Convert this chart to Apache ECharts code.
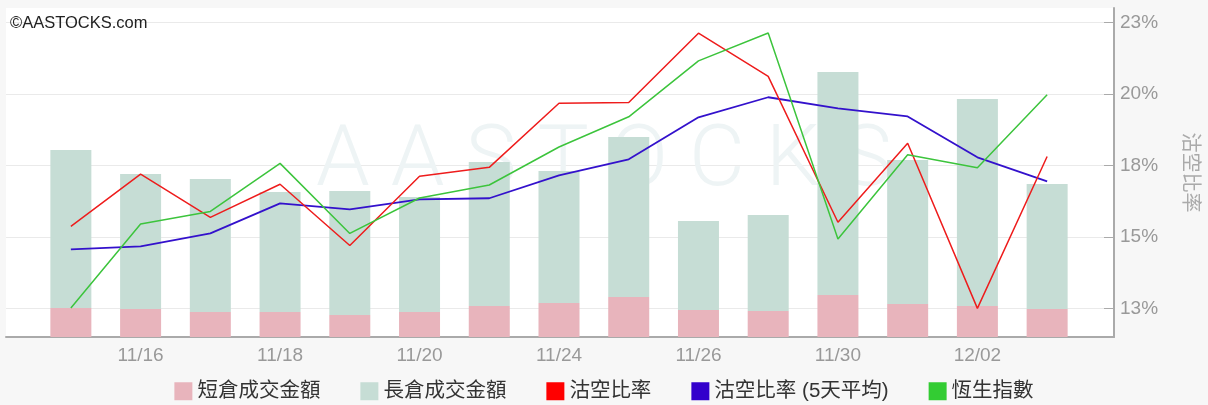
<!DOCTYPE html>
<html>
<head>
<meta charset="utf-8">
<script src="https://cdn.jsdelivr.net/npm/echarts@6/dist/echarts.min.js"></script>
<style>html,body{margin:0;padding:0;background:#f7f7f7;}#c{width:1208px;height:405px;}</style>
</head>
<body>
<div id="c"></div>
<script>
var categories = ['11/13','11/16','11/17','11/18','11/19','11/20','11/23','11/24','11/25','11/26','11/27','11/30','12/01','12/02','12/03'];
var shortAmt = [290,280,250,250,220,250,310,340,400,270,260,420,330,310,280];
var longAmt = [1580,1350,1330,1200,1240,1150,1440,1320,1600,890,960,2230,1440,2070,1250];
var shortRatio = [15.37,17.19,15.68,16.84,14.70,17.12,17.43,19.67,19.70,22.12,20.61,15.51,18.27,12.50,17.81];
var shortRatio5d = [14.56,14.67,15.12,16.17,15.96,16.31,16.35,17.15,17.71,19.18,19.88,19.49,19.21,17.78,16.94];
var hsi = [26156,26381,26415,26544,26356,26451,26486,26588,26669,26819,26894,26341,26567,26532,26728];
var yTickValues = [12.5,15,17.5,20,22.5];
var yTickLabels = ['13%','15%','18%','20%','23%'];
var seriesNames = ['短倉成交金額','長倉成交金額','沽空比率','沽空比率 (5天平均)','恆生指數'];

var latin = 'Arial, "Liberation Sans", sans-serif';
var cjk = 'Arial, "Liberation Sans", "Noto Sans CJK TC", sans-serif';
var chart = echarts.init(document.getElementById('c'));
chart.setOption({
  backgroundColor: '#f7f7f7',
  animation: false,
  graphic: [
    {type:'text', left: 10, top: 15, z: 100, style:{text:'©AASTOCKS.com', font:'16.5px Arial, "Liberation Sans", sans-serif', fill:'#222'}},
    {type:'text', left: 'center', top: 120, z: 1, style:{text:'A A S T O C K S', font:'300 86px Roboto, Arial, sans-serif', fill:'#eef4f5'}}
  ],
  legend: {
    data: seriesNames,
    left: 'center',
    top: 376,
    itemWidth: 18,
    itemHeight: 18,
    itemGap: 40,
    icon: 'rect',
    textStyle: {fontSize: 20.5, color: '#333', fontFamily: cjk}
  },
  grid: [
    {left: 6, right: 92, top: 8, bottom: 68, show: true, backgroundColor: '#fff', borderWidth: 0, z: 0},
    {left: 36, right: 126, top: 8, bottom: 68}
  ],
  xAxis: [
    {type:'value', gridIndex:0, min:0, max:1, axisLine:{show:true, onZero:false, lineStyle:{color:'#aaa', width:2}}, axisTick:{show:false}, axisLabel:{show:false}, splitLine:{show:false}},
    {type:'category', gridIndex:1, data: categories, axisLine:{show:false}, axisTick:{show:false},
     axisLabel:{interval: function(i){return i % 2 === 1;}, color:'#999', fontSize:19, fontFamily: latin, margin: 9}}
  ],
  yAxis: [
    {type:'value', gridIndex:0, position:'right', min:11.5, max:23,
     name:'沽空比率', nameLocation:'middle', nameRotate:-90, nameGap:66,
     nameTextStyle:{color:'#aaa', fontSize:20, fontFamily: cjk},
     axisLine:{show:true, onZero:false, lineStyle:{color:'#aaa', width:2}},
     axisTick:{show:true, inside:true, length:10, customValues: yTickValues, lineStyle:{color:'#aaa'}},
     axisLabel:{customValues: yTickValues, color:'#999', fontSize:19, fontFamily: latin, margin: 6,
       formatter: function(v){ var i = yTickValues.indexOf(v); return i >= 0 ? yTickLabels[i] : ''; }},
     splitLine:{show:true, lineStyle:{color:'#eaeaea', width:1}}},
    {type:'value', gridIndex:1, min:11.5, max:23, show:false, splitLine:{show:false}},
    {type:'value', gridIndex:1, min:0, max:3290, show:false, splitLine:{show:false}},
    {type:'value', gridIndex:1, min:26078, max:26961, show:false, splitLine:{show:false}}
  ],
  series: [
    {name: seriesNames[0], type:'bar', xAxisIndex:1, yAxisIndex:2, stack:'amt', data: shortAmt, barWidth: 41, itemStyle:{color:'#e8b4bc'}, z: 2},
    {name: seriesNames[1], type:'bar', xAxisIndex:1, yAxisIndex:2, stack:'amt', data: longAmt, barWidth: 41, itemStyle:{color:'#c6ddd5'}, z: 2},
    {name: seriesNames[2], type:'line', xAxisIndex:1, yAxisIndex:1, data: shortRatio, showSymbol:false, symbol:'none', lineStyle:{color:'#ee1c1c', width:1.5}, itemStyle:{color:'#ff0000'}, z: 5},
    {name: seriesNames[3], type:'line', xAxisIndex:1, yAxisIndex:1, data: shortRatio5d, showSymbol:false, symbol:'none', lineStyle:{color:'#3311cc', width:1.8}, itemStyle:{color:'#3300cc'}, z: 4},
    {name: seriesNames[4], type:'line', xAxisIndex:1, yAxisIndex:3, data: hsi, showSymbol:false, symbol:'none', lineStyle:{color:'#3cc43c', width:1.5}, itemStyle:{color:'#33cc33'}, z: 6}
  ]
});
</script>
</body>
</html>
